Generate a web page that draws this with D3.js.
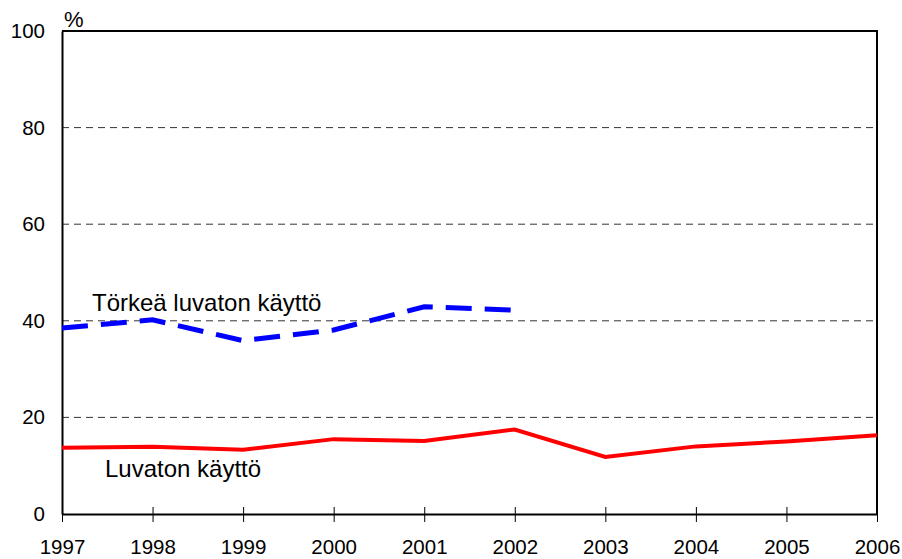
<!DOCTYPE html>
<html>
<head>
<meta charset="utf-8">
<script src="https://cdn.jsdelivr.net/npm/d3@7"></script>
<style>
  body { margin: 0; background: #fff; }
  svg text { font-family: "Liberation Sans", Arial, sans-serif; fill: #000; }
</style>
</head>
<body>
<div id="chart"></div>
<script>
// data
const years = [1997, 1998, 1999, 2000, 2001, 2002, 2003, 2004, 2005, 2006];
const luvaton = [13.7, 13.9, 13.3, 15.5, 15.1, 17.5, 11.8, 14.0, 15.0, 16.3];
const torkeaYears = [1997, 1998, 1999, 2000, 2001, 2002];
const torkea = [38.5, 40.2, 35.9, 38.1, 42.9, 42.2];
const yTicks = [0, 20, 40, 60, 80, 100];

const width = 902, height = 559;
const margin = {top: 31, right: 25, bottom: 45, left: 62};

const svg = d3.select("#chart").append("svg")
    .attr("width", width)
    .attr("height", height);

const x = d3.scaleLinear().domain([1997, 2006]).range([margin.left, width - margin.right]);
const y = d3.scaleLinear().domain([0, 100]).range([height - margin.bottom, margin.top]);

// dashed grid lines
svg.append("g")
  .selectAll("line")
  .data(yTicks.filter(d => d > 0 && d < 100))
  .join("line")
    .attr("x1", x(1997)).attr("x2", x(2006))
    .attr("y1", d => y(d)).attr("y2", d => y(d))
    .attr("stroke", "#333")
    .attr("stroke-width", 1)
    .attr("stroke-dasharray", "7,5");

// frame (top + right)
svg.append("path")
    .attr("d", `M${x(1997)},${y(100)}H${x(2006)}V${y(0)}`)
    .attr("fill", "none")
    .attr("stroke", "#000")
    .attr("stroke-width", 2);

// y axis
const yAxis = svg.append("g")
    .attr("transform", `translate(${x(1997)},0)`)
    .call(d3.axisLeft(y).tickValues(yTicks).tickSize(0).tickPadding(17));
yAxis.select(".domain").attr("stroke", "#000").attr("stroke-width", 2);
yAxis.selectAll("text").style("font-size", "20.5px").attr("font-family", null);

// x axis, ticks crossing the line
const xAxis = svg.append("g")
    .attr("transform", `translate(0,${y(0)})`)
    .call(d3.axisBottom(x).tickValues(years).tickFormat(d3.format("d")).tickSizeInner(8).tickSizeOuter(0).tickPadding(17));
xAxis.select(".domain").attr("stroke", "#000").attr("stroke-width", 2);
xAxis.selectAll(".tick line").attr("y1", -7).attr("y2", 8).attr("stroke", "#000");
xAxis.selectAll("text").style("font-size", "20.5px").attr("font-family", null);

svg.append("text")
    .attr("x", x(1997) + 2).attr("y", y(100) - 4)
    .style("font-size", "22px")
    .text("%");

const line = d3.line()
    .x(d => x(d[0]))
    .y(d => y(d[1]));

svg.append("path")
    .datum(years.map((yr, i) => [yr, luvaton[i]]))
    .attr("d", line)
    .attr("fill", "none")
    .attr("stroke", "#ff0000")
    .attr("stroke-width", 4);

svg.append("path")
    .datum(torkeaYears.map((yr, i) => [yr, torkea[i]]))
    .attr("d", line)
    .attr("fill", "none")
    .attr("stroke", "#0000ff")
    .attr("stroke-width", 5)
    .attr("stroke-dasharray", "26,13");

// series labels
svg.append("text")
    .attr("x", 92).attr("y", 311)
    .style("font-size", "24px")
    .text("Törkeä luvaton käyttö");

svg.append("text")
    .attr("x", 105).attr("y", 477)
    .style("font-size", "24px")
    .text("Luvaton käyttö");
</script>
</body>
</html>
